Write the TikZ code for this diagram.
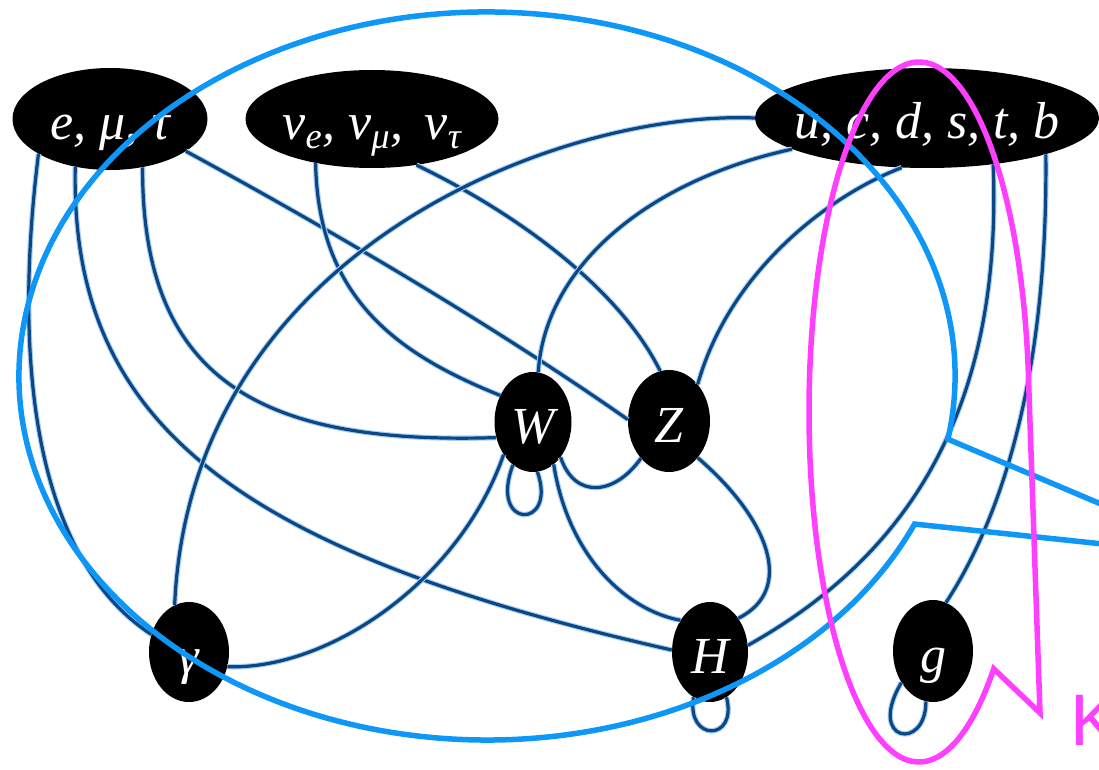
\documentclass[tikz,border=0pt]{standalone}
\usepackage{fontspec}
\setmainfont{Liberation Serif}
\setsansfont{Liberation Sans}
\usetikzlibrary{shapes.geometric}
\definecolor{edgeblue}{HTML}{0B4784}
\definecolor{glow}{HTML}{A9CFF2}
\definecolor{callblue}{HTML}{0E97F6}
\definecolor{callpink}{HTML}{FF3FFF}

\begin{document}
\begin{tikzpicture}[x=1pt,y=1pt,
  prt/.style={ellipse,fill=black,text=white,inner xsep=-20pt,inner ysep=0pt,text height=44pt,text depth=2pt,font=\fontsize{52}{56}\selectfont\itshape},
  bos/.style={prt,minimum width=78pt,minimum height=100pt},
  link/.style={draw=edgeblue,line width=3.2pt,preaction={draw=glow,line width=5.4pt}},
  ring/.style={line width=5.5pt}]
\useasboundingbox (0,0) rectangle (1099,-770);
\clip (0,0) rectangle (1099,-770);
\node[prt,minimum width=195pt,minimum height=102pt] (lep) at (110,-119) {e, μ, τ};
\node[prt,minimum width=253pt,minimum height=98pt] (nu) at (372,-119) {ν\textsubscript{e}, ν\textsubscript{μ},\, ν\textsubscript{τ}};
\node[prt,minimum width=344pt,minimum height=100pt] (qrk) at (927,-118) {u, c, d, s, t, b};
\node[bos,minimum width=77pt] (W) at (533,-422) {W};
\node[bos,minimum width=82pt,minimum height=102pt] (Z) at (669,-421) {Z};
\node[bos,minimum width=80pt] (gam) at (189,-652) {γ};
\node[bos,minimum width=76pt] (H) at (710,-652) {H};
\node[bos,minimum width=80pt,minimum height=102pt] (g) at (933,-651) {g};
\draw[link] (lep.206) .. controls (14,-350) and (30,-555) .. (gam.155);
\draw[link] (lep.234) .. controls (70,-420) and (230,-550) .. (H.177);
\draw[link] (lep.304) .. controls (142,-380) and (260,-445) .. (W.203);
\draw[link] (lep.337) .. controls (340,-235) and (500,-330) .. (Z.178);
\draw[link] (nu.218) .. controls (318,-300) and (400,-355) .. (W.141);
\draw[link] (nu.314) .. controls (520,-215) and (620,-290) .. (Z.100);
\draw[link] (qrk.180) .. controls (560,-110) and (190,-250) .. (gam.107);
\draw[link] (qrk.193) .. controls (650,-180) and (545,-265) .. (W.84);
\draw[link] (qrk.243) .. controls (830,-195) and (730,-270) .. (Z.52);
\draw[link] (qrk.325) .. controls (1003,-420) and (900,-560) .. (H.10);
\draw[link] (qrk.343) .. controls (1048,-380) and (1000,-520) .. (g.75);
\draw[link] (W.228) .. controls (460,-580) and (330,-670) .. (gam.339);
\draw[link] (W.308) .. controls (575,-500) and (615,-495) .. (Z.233);
\draw[link] (W.296) .. controls (568,-555) and (625,-610) .. (H.133);
\draw[link] (Z.308) .. controls (770,-520) and (795,-590) .. (H.50);
\draw[link] (W.245) .. controls (488,-530) and (558,-530) .. (W.275);
\draw[link] (H.250) .. controls (686,-742) and (738,-742) .. (H.290);
\draw[link] (g.225) .. controls (866,-742) and (926,-752) .. (g.262);
\draw[ring,callblue] (487,-376) ++(-10:468pt and 364pt) arc[start angle=-10,end angle=336,x radius=468pt,y radius=364pt] -- (1226,-557) -- cycle;
\draw[ring,callpink] (919,-412) ++(5:110pt and 350pt) arc[start angle=5,end angle=312.8,x radius=110pt,y radius=350pt] -- (1040,-713) -- cycle;
\node[text=callpink,font=\sffamily\fontsize{73}{80}\selectfont,anchor=base west,inner sep=0pt] (k) at (1070,-745) {K};
\end{tikzpicture}
\end{document}
